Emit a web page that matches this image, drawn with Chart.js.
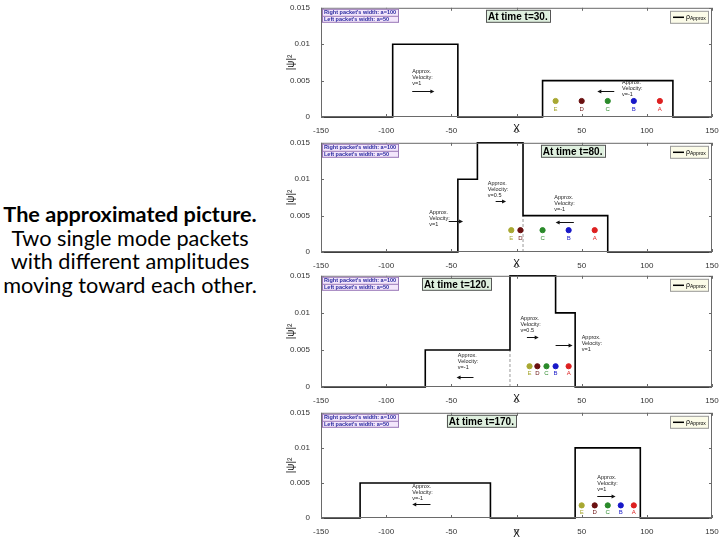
<!DOCTYPE html>
<html><head><meta charset="utf-8">
<script src="https://cdn.jsdelivr.net/npm/chart.js@4.4.1/dist/chart.umd.min.js"></script>
<style>
html,body{margin:0;padding:0;background:#fff;width:720px;height:540px;overflow:hidden;}
.pane{position:absolute;left:280px;width:440px;}
#caption{position:absolute;left:0;top:203px;width:260px;text-align:center;font-family:Lato,"Open Sans",sans-serif;font-size:21.7px;line-height:23.7px;color:#000;white-space:nowrap;}
#caption b{font-weight:700;}
</style></head><body>
<div id="caption"><b>The approximated picture.</b><br>Two single mode packets<br>with different amplitudes<br>moving toward each other.</div>
<div class="pane" style="top:0;height:135px"><canvas id="c0" width="440" height="135"></canvas></div>
<div class="pane" style="top:135px;height:135px"><canvas id="c1" width="440" height="135"></canvas></div>
<div class="pane" style="top:268px;height:137px"><canvas id="c2" width="440" height="137"></canvas></div>
<div class="pane" style="top:405px;height:135px"><canvas id="c3" width="440" height="135"></canvas></div>
<script>
// ---- data ----
const xTicks = [-150, -100, -50, 0, 50, 100, 150];
const yTicks = [0, 0.005, 0.01, 0.015];
const yTickLabels = ['0', '0.005', '0.01', '0.015'];
const times = [30, 80, 120, 170];
const infoLines = ["Right packet's width: a=100", "Left packet's width: a=50"];
const legendLabel = ['ρ', 'Approx'];
// step function edges and densities (|psi|^2) for each time
const edges30 = [-150, -95, -45, 20, 120, 150];
const dens30  = [0, 0.01, 0, 0.005, 0, 0];
const edges80 = [-150, -45, -30, 5, 70, 150];
const dens80  = [0, 0.01, 0.015, 0.005, 0, 0];
const edges120 = [-150, -70, -5, 30, 45, 150];
const dens120  = [0, 0.005, 0.015, 0.01, 0, 0];
const edges170 = [-150, -120, -20, 45, 95, 150];
const dens170  = [0, 0.005, 0, 0.01, 0, 0];
// tracer points
const markerLetters = ['E', 'D', 'C', 'B', 'A'];
const markerX30 = [30, 50, 70, 90, 110];
const markerX80 = [-4, 3, 20, 40, 60];
const markerX120 = [10, 16, 23, 30, 40];
const markerX170 = [50, 60, 70, 80, 90];
const markerY = [0.0022, 0.003, 0.0028, 0.0018];
const letterY = [0.0011, 0.0019, 0.0018, 0.0008];
// overlap boundary (dashed)
const dashX = [null, 5, -5, null];
const dashTop = [null, 0.005, 0.005, null];
// velocity notes: [x, y, velocity text]
const vel30 = [[-80, 0.0062, 'v=1'], [81, 0.0047, 'v=-1']];
const vel80 = [[-67, 0.0054, 'v=1'], [-22, 0.0094, 'v=0.5'], [29, 0.0075, 'v=-1']];
const vel120 = [[-45, 0.0042, 'v=-1'], [3, 0.0092, 'v=0.5'], [50, 0.0067, 'v=1']];
const vel170 = [[-80, 0.0045, 'v=-1'], [62, 0.0058, 'v=1']];
// arrows: [xFrom, xTo, y]
const arr30 = [[-80, -63, 0.0036], [75, 62, 0.0036]];
const arr80 = [[-52, -41, 0.0042], [-16, -8, 0.007], [44, 30, 0.0041]];
const arr120 = [[-33, -46, 0.0013], [8, 17, 0.0068], [30, 43, 0.0056]];
const arr170 = [[-66, -80, 0.002], [62, 76, 0.0031]];
// title box centre (data x)
const titleX = [1, 43, -46, -27];

// ---- styling ----
const markerColors = ['#a8a832', '#6a1010', '#2a8a2a', '#1818c8', '#dd2020'];
const panels = [
  {edges: edges30, dens: dens30, mx: markerX30, vel: vel30, arr: arr30},
  {edges: edges80, dens: dens80, mx: markerX80, vel: vel80, arr: arr80},
  {edges: edges120, dens: dens120, mx: markerX120, vel: vel120, arr: arr120},
  {edges: edges170, dens: dens170, mx: markerX170, vel: vel170, arr: arr170}
];
const padTop = [5, 7, 7, 7];
const xAxisH = [18, 18, 18, 22];
const F = '"Liberation Sans", Arial, sans-serif';

const overlay = {
  id: 'overlay',
  afterDatasetsDraw(chart, args, o) {
    const i = o.idx, p = panels[i];
    const {ctx, chartArea: a, scales: {x, y}} = chart;
    ctx.save();
    // frame
    ctx.strokeStyle = '#6a6a6a'; ctx.lineWidth = 1;
    ctx.strokeRect(a.left + 0.5, a.top + 0.5, a.width - 1, a.height - 1);
    ctx.beginPath();
    xTicks.forEach(v => { const px = Math.round(x.getPixelForValue(v)) + 0.5;
      ctx.moveTo(px, a.bottom); ctx.lineTo(px, a.bottom - 3);
      ctx.moveTo(px, a.top); ctx.lineTo(px, a.top + 3); });
    yTicks.forEach(v => { const py = Math.round(y.getPixelForValue(v)) + 0.5;
      ctx.moveTo(a.left, py); ctx.lineTo(a.left + 3, py);
      ctx.moveTo(a.right, py); ctx.lineTo(a.right - 3, py); });
    ctx.stroke();
    // letters under markers
    ctx.font = '6px ' + F; ctx.textAlign = 'center'; ctx.textBaseline = 'middle';
    p.mx.forEach((mx, k) => { ctx.fillStyle = markerColors[k];
      ctx.fillText(markerLetters[k], x.getPixelForValue(mx), y.getPixelForValue(letterY[i])); });
    // velocity notes
    ctx.fillStyle = '#222'; ctx.textAlign = 'left'; ctx.font = '5.5px ' + F;
    p.vel.forEach(v => { const px = x.getPixelForValue(v[0]), py = y.getPixelForValue(v[1]);
      ctx.fillText('Approx.', px, py); ctx.fillText('Velocity:', px, py + 6); ctx.fillText(v[2], px, py + 12); });
    // arrows
    ctx.strokeStyle = '#111'; ctx.fillStyle = '#111'; ctx.lineWidth = 1;
    p.arr.forEach(r => { const x0 = x.getPixelForValue(r[0]), x1 = x.getPixelForValue(r[1]), py = Math.round(y.getPixelForValue(r[2])) + 0.5;
      const d = Math.sign(x1 - x0);
      ctx.beginPath(); ctx.moveTo(x0, py); ctx.lineTo(x1 - d * 3, py); ctx.stroke();
      ctx.beginPath(); ctx.moveTo(x1, py); ctx.lineTo(x1 - d * 4, py - 2); ctx.lineTo(x1 - d * 4, py + 2); ctx.closePath(); ctx.fill(); });
    // info box
    ctx.fillStyle = '#f3e6fb'; ctx.fillRect(a.left + 1, a.top + 1, 77, 14);
    ctx.strokeStyle = '#9a7ab8'; ctx.lineWidth = 1;
    ctx.strokeRect(a.left + 1.5, a.top + 1.5, 76, 13);
    ctx.beginPath(); ctx.moveTo(a.left + 1, a.top + 8.5); ctx.lineTo(a.left + 78, a.top + 8.5); ctx.stroke();
    ctx.fillStyle = '#2a2aa0'; ctx.font = 'bold 5.5px ' + F; ctx.textAlign = 'left';
    ctx.fillText(infoLines[0], a.left + 3, a.top + 5);
    ctx.fillText(infoLines[1], a.left + 3, a.top + 12);
    // title box
    ctx.font = 'bold 10px ' + F;
    const t = 'At time t=' + times[i] + '.';
    const tw = ctx.measureText(t).width + 4;
    const cx = x.getPixelForValue(titleX[i]);
    ctx.fillStyle = '#dff0df'; ctx.fillRect(cx - tw / 2, a.top + 2, tw, 13);
    ctx.strokeStyle = '#555'; ctx.strokeRect(Math.round(cx - tw / 2) + 0.5, a.top + 2.5, Math.round(tw), 12);
    ctx.fillStyle = '#000'; ctx.textAlign = 'center';
    ctx.fillText(t, cx, a.top + 9);
    // legend
    const lx = a.right - 42, ly = a.top + 3;
    ctx.fillStyle = '#fbfbe8'; ctx.fillRect(lx, ly, 39, 13);
    ctx.strokeStyle = '#999'; ctx.strokeRect(lx + 0.5, ly + 0.5, 38, 12);
    ctx.strokeStyle = '#000'; ctx.lineWidth = 1.5;
    ctx.beginPath(); ctx.moveTo(lx + 3, ly + 6.5); ctx.lineTo(lx + 14, ly + 6.5); ctx.stroke();
    ctx.fillStyle = '#000'; ctx.textAlign = 'left'; ctx.font = '7px ' + F;
    ctx.fillText(legendLabel[0], lx + 16, ly + 6);
    ctx.font = '5px ' + F; ctx.fillText(legendLabel[1], lx + 20, ly + 8);
    ctx.restore();
  }
};

panels.forEach((p, i) => {
  const datasets = [
    {type: 'line', data: p.edges.map((e, k) => ({x: e, y: p.dens[k]})), stepped: 'before',
     borderColor: '#000', borderWidth: 1.6, pointRadius: 0, fill: false, clip: 3, order: 1}
  ];
  if (dashX[i] !== null) datasets.push({type: 'line', data: [{x: dashX[i], y: 0}, {x: dashX[i], y: dashTop[i]}],
    borderColor: '#999', borderWidth: 1, borderDash: [3, 2], pointRadius: 0, fill: false, order: 2});
  datasets.push({type: 'scatter', data: p.mx.map(v => ({x: v, y: markerY[i]})),
    pointBackgroundColor: markerColors, pointBorderColor: markerColors, pointRadius: 2.6, order: 0});
  new Chart(document.getElementById('c' + i), {
    data: {datasets},
    options: {
      responsive: false, animation: false, devicePixelRatio: 1,
      layout: {padding: {left: 5, right: 8, top: padTop[i], bottom: 0}},
      plugins: {legend: {display: false}, tooltip: {enabled: false}, overlay: {idx: i}},
      scales: {
        x: {type: 'linear', min: -150, max: 150,
            afterBuildTicks: s => { s.ticks = xTicks.map(v => ({value: v})); },
            afterFit: s => { s.height = xAxisH[i]; },
            grid: {display: false}, border: {display: false},
            ticks: {font: {size: 8, family: F}, color: '#333', padding: 1, maxRotation: 0,
                    callback: v => String(v)},
            title: {display: true, text: 'X', font: {size: 10, family: F}, color: '#111', padding: {top: -1, bottom: 0}}},
        y: {type: 'linear', min: 0, max: 0.015,
            afterBuildTicks: s => { s.ticks = yTicks.map(v => ({value: v})); },
            afterFit: s => { s.width = 36; },
            grid: {display: false}, border: {display: false},
            ticks: {font: {size: 8, family: F}, color: '#333', padding: 3,
                    callback: v => yTickLabels[yTicks.indexOf(v)]},
            title: {display: true, text: '|ψ|²', font: {size: 10, family: F}, color: '#111', padding: 0}}
      }
    },
    plugins: [overlay]
  });
});
</script>
</body></html>
